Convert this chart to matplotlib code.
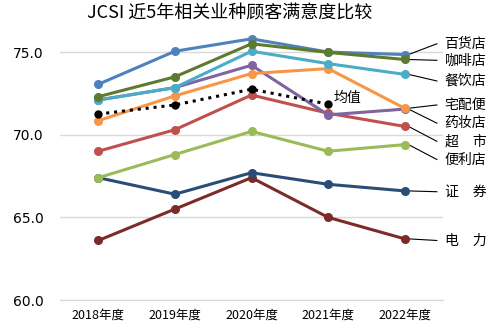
import matplotlib
matplotlib.use("Agg")
import matplotlib.pyplot as plt

plt.rcParams['font.family'] = ['Noto Sans CJK SC', 'DejaVu Sans']

years = ["2018年度", "2019年度", "2020年度", "2021年度", "2022年度"]
yticks = [60.0, 65.0, 70.0, 75.0]

dianli = [63.6, 65.5, 67.4, 65.0, 63.7]
zhengquan = [67.4, 66.4, 67.7, 67.0, 66.6]
bianlidian = [67.4, 68.8, 70.2, 69.0, 69.4]
chaoshi = [69.0, 70.3, 72.4, 71.3, 70.5]
yaozhuangdian = [72.1, 72.85, 74.2, 71.2, 71.55]
zhaipeibian = [70.85, 72.35, 73.7, 74.0, 71.6]
canyindian = [72.1, 72.85, 75.05, 74.3, 73.65]
baihuodian = [73.05, 75.05, 75.8, 75.0, 74.85]
kafeidian = [72.3, 73.5, 75.5, 74.98, 74.55]
junzhi = [71.25, 71.8, 72.75, 71.85]

series = [
    ("电　力", dianli, "#7B2C2A"),
    ("证　券", zhengquan, "#2A4D78"),
    ("便利店", bianlidian, "#9BBB59"),
    ("超　市", chaoshi, "#C0504D"),
    ("药妆店", yaozhuangdian, "#8064A2"),
    ("宅配便", zhaipeibian, "#F79646"),
    ("餐饮店", canyindian, "#4BACC6"),
    ("百货店", baihuodian, "#4F81BD"),
    ("咖啡店", kafeidian, "#5E7A2E"),
]

# label y positions (data units) on the right side
label_y = {
    "百货店": 75.5, "咖啡店": 74.5, "餐饮店": 73.25, "宅配便": 71.8,
    "药妆店": 70.7, "超　市": 69.6, "便利店": 68.5, "证　券": 66.55, "电　力": 63.6,
}

W, H = 493, 326
fig = plt.figure(figsize=(W / 100, H / 100), dpi=100)
ax = fig.add_axes([60 / W, 1 - 300 / H, (443 - 60) / W, (300 - 19) / H])
ax.set_xlim(-0.5, 4.5)
ax.set_ylim(60, 77)

x = list(range(len(years)))
for name, vals, col in series:
    ax.plot(x, vals, color=col, lw=2.2, marker='o', ms=5.5, zorder=3, clip_on=False)

ax.plot(x[:len(junzhi)], junzhi, color='black', lw=2.2, ls=(0, (1, 1.6)),
        marker='o', ms=5, zorder=5)
ax.text(3.07, junzhi[-1] + 0.35, "均值", fontsize=10, va='center', ha='left')

# leader lines and labels
xl_end = 4.42
for name, vals, col in series:
    ly = label_y[name]
    ax.plot([4.05, xl_end], [vals[-1], ly], color='black', lw=0.8, clip_on=False, zorder=2)
    ax.text(4.52, ly, name, fontsize=10, va='center', ha='left', clip_on=False)

ax.set_yticks(yticks)
ax.set_yticklabels([f"{v:.1f}" for v in yticks], fontsize=10, family='DejaVu Sans')
ax.set_xticks(x)
ax.set_xticklabels(years, fontsize=9)
ax.tick_params(axis='y', length=0, pad=12)
ax.tick_params(axis='x', length=0, pad=6)
ax.grid(axis='y', color='#D9D9D9', lw=1)
for s in ['top', 'right', 'left']:
    ax.spines[s].set_visible(False)
ax.spines['bottom'].set_color('#D9D9D9')
ax.set_axisbelow(True)

fig.text(230 / W, 1 - 13 / H, "JCSI 近5年相关业种顾客满意度比较", fontsize=13,
         ha='center', va='center')

fig.savefig("out.png", dpi=100, facecolor='white')
